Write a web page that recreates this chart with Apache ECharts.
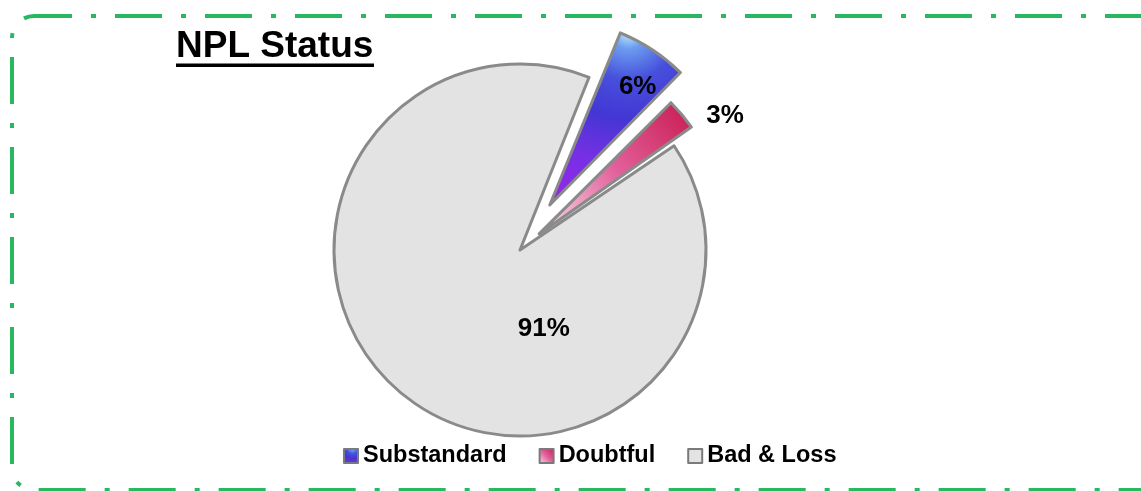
<!DOCTYPE html>
<html>
<head>
<meta charset="utf-8">
<title>NPL Status</title>
<script src="https://cdn.jsdelivr.net/npm/echarts@6/dist/echarts.min.js"></script>
<style>
    html, body { margin: 0; padding: 0; background: #fff; }
    #main { width: 1141px; height: 491px; }
</style>
</head>
<body>
<div id="main"></div>
<script>
// share of non performing loans, percent
var categories = ['Substandard', 'Doubtful', 'Bad & Loss'];
var shares = [6.2, 3.0, 90.8];

var font = "'Liberation Sans', Arial, sans-serif";
var fills = [
    {type: 'radial', x: 0.6, y: 0, r: 1.3, colorStops: [
        {offset: 0, color: '#c8f2ff'}, {offset: 0.1, color: '#6c9cf0'}, {offset: 0.28, color: '#4650dc'},
        {offset: 0.5, color: '#4436d4'}, {offset: 0.75, color: '#7430e4'}, {offset: 1, color: '#9028ea'}]},
    {type: 'linear', x: 0, y: 1, x2: 1, y2: 0, colorStops: [
        {offset: 0, color: '#fbe2ee'}, {offset: 0.5, color: '#e2609a'}, {offset: 1, color: '#c8184e'}]},
    '#e3e3e3'
];

// one pie per explode distance, slices not drawn by that pie are left transparent
function sliceData(visible) {
    return categories.map(function (name, i) {
        var on = visible.indexOf(i) >= 0;
        return {
            name: name,
            value: shares[i],
            selected: on && i !== 2,
            itemStyle: on ? {color: fills[i], borderColor: '#8a8a8a', borderWidth: 3}
                          : {color: 'transparent', borderWidth: 0},
            label: {show: on, position: i === 1 ? 'outside' : 'inside'}
        };
    });
}

var pieBase = {
    type: 'pie',
    center: [520, 250],
    radius: 186,
    startAngle: 67.7,
    percentPrecision: 0,
    selectedMode: 'multiple',
    avoidLabelOverlap: false,
    silent: true,
    emphasis: {disabled: true},
    label: {formatter: '{d}%', color: '#000', fontSize: 26, fontWeight: 'bold', fontFamily: font},
    labelLine: {show: false, length: 6, length2: 12}
};

var chart = echarts.init(document.getElementById('main'));
var option = {
    animation: false,
    title: {
        text: 'NPL Status', left: 176, top: 28, padding: 0,
        textStyle: {fontSize: 37, fontWeight: 'bold', color: '#000', fontFamily: font}
    },
    legend: {
        left: 343, top: 444, padding: 0, itemGap: 32, itemWidth: 14, itemHeight: 14, icon: 'rect',
        textStyle: {fontSize: 23.5, fontWeight: 'bold', color: '#000', fontFamily: font},
        data: categories.map(function (name, i) {
            return {name: name, itemStyle: {color: fills[i], borderColor: '#7a7a7a', borderWidth: 2}};
        })
    },
    graphic: [
        {type: 'rect', silent: true, z: -1,
            shape: {x: 12, y: 16, width: 1166, height: 474, r: 22},
            style: {fill: 'none', stroke: '#27b860', lineWidth: 4, lineDash: [47, 19, 5, 19], lineDashOffset: 9}},
        {type: 'rect', silent: true,
            shape: {x: 176, y: 63.5, width: 198, height: 3.5},
            style: {fill: '#000'}}
    ],
    series: [
        Object.assign({}, pieBase, {
            name: 'main',
            selectedOffset: 25,
            padAngle: 1,
            data: sliceData([1, 2]),
            labelLayout: function (p) {
                if (p.dataIndex === 2) return {dx: 84, dy: 4};
                if (p.dataIndex === 1) return {dx: 3, dy: 5};
                return {};
            }
        }),
        Object.assign({}, pieBase, {
            name: 'substandard',
            selectedOffset: 54,
            data: sliceData([0]),
            labelLayout: function (p) {
                return p.dataIndex === 0 ? {dx: 35, dy: -38} : {};
            }
        })
    ]
};
chart.setOption(option);
</script>
</body>
</html>
